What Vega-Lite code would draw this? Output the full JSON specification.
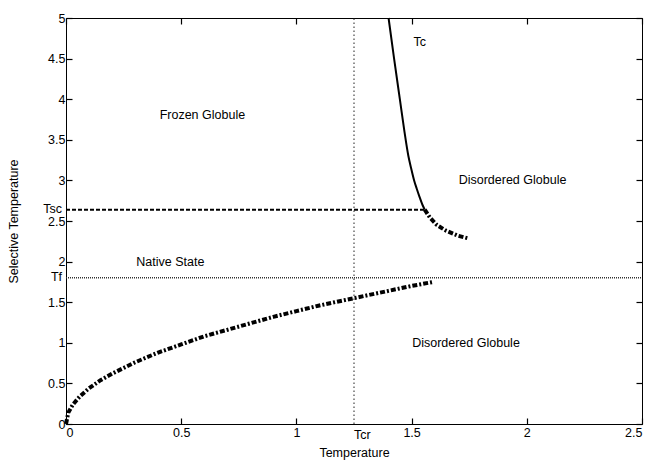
{
  "$schema": "https://vega.github.io/schema/vega-lite/v6.json",
  "width": 576,
  "height": 406,
  "autosize": "none",
  "padding": {"left": 66, "top": 18, "right": 8, "bottom": 38},
  "config": {
    "view": {"stroke": "black", "strokeWidth": 1},
    "font": "Liberation Sans",
    "axis": {"grid": false, "domain": false, "tickColor": "black", "tickSize": -6, "tickWidth": 1.2, "labelColor": "black", "labelFont": "Liberation Sans", "labelFontSize": 12.5, "titleFont": "Liberation Sans", "titleFontSize": 12.5, "titleFontWeight": "normal", "titleColor": "black", "labelOverlap": false, "format": "~g"}
  },
  "datasets": {
    "tc": [
      {"x": 1.400, "y": 5.0}, {"x": 1.424, "y": 4.5}, {"x": 1.449, "y": 4.0}, {"x": 1.469, "y": 3.6},
      {"x": 1.486, "y": 3.3}, {"x": 1.498, "y": 3.15}, {"x": 1.511, "y": 3.0}, {"x": 1.522, "y": 2.9},
      {"x": 1.534, "y": 2.8}, {"x": 1.547, "y": 2.7}, {"x": 1.557, "y": 2.64}
    ],
    "dashdot": [
      {"s": "low", "x": 0.0, "y": 0.0}, {"s": "low", "x": 0.01, "y": 0.14}, {"s": "low", "x": 0.03, "y": 0.24},
      {"s": "low", "x": 0.06, "y": 0.34}, {"s": "low", "x": 0.1, "y": 0.44}, {"s": "low", "x": 0.15, "y": 0.54},
      {"s": "low", "x": 0.2, "y": 0.62}, {"s": "low", "x": 0.3, "y": 0.76}, {"s": "low", "x": 0.4, "y": 0.88},
      {"s": "low", "x": 0.5, "y": 0.98}, {"s": "low", "x": 0.6, "y": 1.08}, {"s": "low", "x": 0.7, "y": 1.16},
      {"s": "low", "x": 0.8, "y": 1.24}, {"s": "low", "x": 0.9, "y": 1.32}, {"s": "low", "x": 1.0, "y": 1.39},
      {"s": "low", "x": 1.1, "y": 1.46}, {"s": "low", "x": 1.2, "y": 1.52}, {"s": "low", "x": 1.3, "y": 1.58},
      {"s": "low", "x": 1.4, "y": 1.64}, {"s": "low", "x": 1.5, "y": 1.70}, {"s": "low", "x": 1.595, "y": 1.75},
      {"s": "up", "x": 1.557, "y": 2.64}, {"s": "up", "x": 1.58, "y": 2.54}, {"s": "up", "x": 1.61, "y": 2.45},
      {"s": "up", "x": 1.65, "y": 2.38}, {"s": "up", "x": 1.70, "y": 2.32}, {"s": "up", "x": 1.748, "y": 2.285}
    ],
    "tsc": [{"x": 0, "y": 2.64}, {"x": 1.557, "y": 2.64}],
    "tf": [{"x": 0, "y": 1.8}, {"x": 2.5, "y": 1.8}],
    "tcr": [{"x": 1.25, "y": 0}, {"x": 1.25, "y": 5}],
    "labels": [
      {"x": 0.592, "y": 3.81, "t": "Frozen Globule"},
      {"x": 0.453, "y": 2.0, "t": "Native State"},
      {"x": 1.535, "y": 4.70, "t": "Tc"},
      {"x": 1.938, "y": 3.0, "t": "Disordered Globule"},
      {"x": 1.736, "y": 1.0, "t": "Disordered Globule"}
    ],
    "ylabels": [{"x": 0, "y": 2.64, "t": "Tsc"}, {"x": 0, "y": 1.8, "t": "Tf"}],
    "xlabels": [{"x": 1.25, "y": 0, "t": "Tcr"}]
  },
  "layer": [
    {
      "data": {"name": "tcr"},
      "mark": {"type": "line", "color": "#222", "strokeWidth": 1, "strokeDash": [1.5, 2.5]},
      "encoding": {
        "x": {"field": "x", "type": "quantitative", "scale": {"domain": [0, 2.5], "nice": false, "zero": false},
          "axis": {"values": [0, 0.5, 1, 1.5, 2, 2.5], "title": "Temperature", "labelPadding": 8, "titlePadding": 8}},
        "y": {"field": "y", "type": "quantitative", "scale": {"domain": [0, 5], "nice": false, "zero": false},
          "axis": {"values": [0, 0.5, 1, 1.5, 2, 2.5, 3, 3.5, 4, 4.5, 5], "title": "Selective Temperature", "labelPadding": 7, "titlePadding": 27}}
      }
    },
    {
      "data": {"name": "tf"},
      "mark": {"type": "line", "color": "#333", "strokeWidth": 1.5, "strokeDash": [1, 1]},
      "encoding": {
        "x": {"field": "x", "type": "quantitative", "axis": {"orient": "top", "values": [0, 0.5, 1, 1.5, 2, 2.5], "labels": false, "title": null}},
        "y": {"field": "y", "type": "quantitative", "axis": {"orient": "right", "values": [0, 0.5, 1, 1.5, 2, 2.5, 3, 3.5, 4, 4.5, 5], "labels": false, "title": null}}
      }
    },
    {
      "data": {"name": "tsc"},
      "mark": {"type": "line", "color": "black", "strokeWidth": 2, "strokeDash": [4, 2]},
      "encoding": {
        "x": {"field": "x", "type": "quantitative", "axis": null},
        "y": {"field": "y", "type": "quantitative", "axis": null}
      }
    },
    {
      "data": {"name": "tc"},
      "mark": {"type": "line", "color": "black", "strokeWidth": 2, "interpolate": "monotone"},
      "encoding": {
        "x": {"field": "x", "type": "quantitative", "axis": null},
        "y": {"field": "y", "type": "quantitative", "axis": null},
        "order": {"field": "y", "sort": "descending"}
      }
    },
    {
      "data": {"name": "dashdot"},
      "mark": {"type": "line", "color": "black", "strokeWidth": 4, "strokeDash": [5, 2, 2, 2]},
      "encoding": {
        "x": {"field": "x", "type": "quantitative", "axis": null},
        "y": {"field": "y", "type": "quantitative", "axis": null},
        "detail": {"field": "s"}
      }
    },
    {
      "data": {"name": "labels"},
      "mark": {"type": "text", "color": "black", "fontSize": 12.5, "font": "Liberation Sans", "align": "center", "baseline": "middle"},
      "encoding": {
        "x": {"field": "x", "type": "quantitative", "axis": null},
        "y": {"field": "y", "type": "quantitative", "axis": null},
        "text": {"field": "t"}
      }
    },
    {
      "data": {"name": "ylabels"},
      "mark": {"type": "text", "color": "black", "fontSize": 12.5, "font": "Liberation Sans", "align": "right", "baseline": "alphabetic", "dx": -4, "dy": 3},
      "encoding": {
        "x": {"field": "x", "type": "quantitative", "axis": null},
        "y": {"field": "y", "type": "quantitative", "axis": null},
        "text": {"field": "t"}
      }
    },
    {
      "data": {"name": "xlabels"},
      "mark": {"type": "text", "color": "black", "fontSize": 12.5, "font": "Liberation Sans", "align": "left", "baseline": "top", "dy": 5},
      "encoding": {
        "x": {"field": "x", "type": "quantitative", "axis": null},
        "y": {"field": "y", "type": "quantitative", "axis": null},
        "text": {"field": "t"}
      }
    }
  ],
  "resolve": {"axis": {"x": "independent", "y": "independent"}}
}
